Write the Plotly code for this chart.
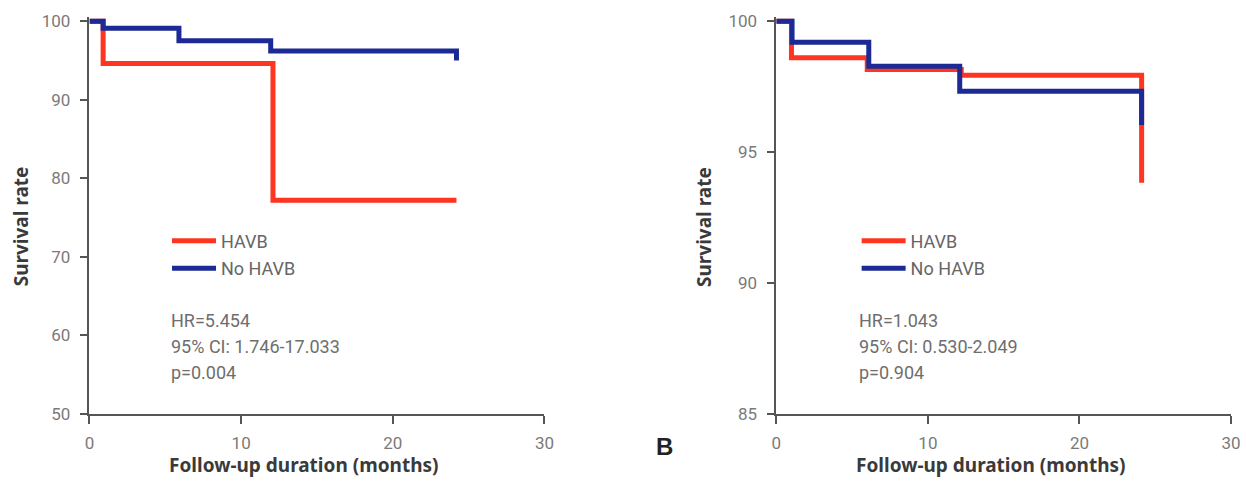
import plotly.graph_objects as go

# ---- data ----
months_ticks = [0, 10, 20, 30]

a_havb_t = [0, 0.9, 12.1, 24.2]
a_havb_s = [100, 94.6, 77.2, 77.2]
a_no_t = [0, 0.9, 5.9, 11.95, 24.2, 24.2]
a_no_s = [100, 99.1, 97.5, 96.2, 96.2, 95.0]

b_havb_t = [0, 1.0, 6.0, 12.2, 24.1, 24.1]
b_havb_s = [100, 98.6, 98.15, 97.93, 97.93, 93.83]
b_no_t = [0, 1.04, 6.1, 12.1, 24.1, 24.1]
b_no_s = [100, 99.2, 98.28, 97.32, 97.32, 96.03]

a_ticks = [50, 60, 70, 80, 90, 100]
b_ticks = [85, 90, 95, 100]

a_stats = ["HR=5.454", "95% CI: 1.746-17.033", "p=0.004"]
b_stats = ["HR=1.043", "95% CI: 0.530-2.049", "p=0.904"]

x_title = "Follow-up duration (months)"
y_title = "Survival rate"

RED = "#FF3521"
BLUE = "#1B2A94"
W, H = 1246, 487

def px_x(p):
    return p / W

def px_y(p):
    return 1 - p / H

fig = go.Figure()

def add(t, s, name, color, xa, ya, legend, group):
    fig.add_trace(go.Scatter(
        x=t, y=s, mode="lines", name=name, line=dict(color=color, width=5, shape="hv"),
        xaxis=xa, yaxis=ya, legend=legend, legendgroup=group, hoverinfo="skip"))

add(a_havb_t, a_havb_s, "HAVB", RED, "x", "y", "legend", "a1")
add(a_no_t, a_no_s, "No HAVB", BLUE, "x", "y", "legend", "a2")
add(b_havb_t, b_havb_s, "HAVB", RED, "x2", "y2", "legend2", "b1")
add(b_no_t, b_no_s, "No HAVB", BLUE, "x2", "y2", "legend2", "b2")

tickfont = dict(family="Roboto", size=17, color="#7a7a7a")
titlefont = dict(family="Noto Sans", size=19, color="#3a3a3a", weight="bold")
axis_common = dict(showline=True, linecolor="#555555", linewidth=1.5, ticks="outside",
                   ticklen=8, tickcolor="#555555", tickwidth=1.5, showgrid=False,
                   zeroline=False, tickfont=tickfont, fixedrange=True)

ydom = [px_y(421.7), px_y(11.64)]
legfont = dict(family="Roboto", size=18, color="#666666")

fig.update_layout(
    width=W, height=H, margin=dict(l=0, r=0, t=0, b=0),
    paper_bgcolor="white", plot_bgcolor="white",
    xaxis=dict(domain=[px_x(85.5), px_x(546)], range=[0, 30], tickvals=months_ticks,
               anchor="y", ticklabelstandoff=5, **axis_common),
    yaxis=dict(domain=ydom, range=[50, 100.5], tickvals=a_ticks,
               anchor="x", ticklabelstandoff=6, **axis_common),
    xaxis2=dict(domain=[px_x(780.7), px_x(1241)], range=[0, 30], tickvals=months_ticks,
                anchor="y2", ticklabelstandoff=5, **axis_common),
    yaxis2=dict(domain=ydom, range=[85, 100.15], tickvals=b_ticks,
                anchor="x2", ticklabelstandoff=6, **axis_common),
    legend=dict(x=px_x(164), y=px_y(224), xanchor="left", yanchor="top", font=legfont,
                itemwidth=44, tracegroupgap=1, bgcolor="rgba(0,0,0,0)"),
    legend2=dict(x=px_x(862), y=px_y(224), xanchor="left", yanchor="top", font=legfont,
                 itemwidth=44, tracegroupgap=1, bgcolor="rgba(0,0,0,0)"),
    showlegend=True,
)

stat_font = dict(family="Roboto", size=18, color="#6e6e6e")
for i, txt in enumerate(a_stats):
    fig.add_annotation(text=txt, x=px_x(166), y=px_y(325 + 27 * i), xref="paper", yref="paper",
                       xanchor="left", yanchor="middle", showarrow=False, font=stat_font)
for i, txt in enumerate(b_stats):
    fig.add_annotation(text=txt, x=px_x(862), y=px_y(325 + 27 * i), xref="paper", yref="paper",
                       xanchor="left", yanchor="middle", showarrow=False, font=stat_font)

# axis titles
for cx in (302, 998):
    fig.add_annotation(text=x_title, x=px_x(cx), y=px_y(475), xref="paper", yref="paper",
                       xanchor="center", yanchor="middle", showarrow=False, font=titlefont)
for cx in (16, 707):
    fig.add_annotation(text=y_title, x=px_x(cx), y=px_y(228), xref="paper", yref="paper",
                       xanchor="center", yanchor="middle", showarrow=False, font=titlefont,
                       textangle=-90)

fig.add_annotation(text="B", x=px_x(668), y=px_y(455), xref="paper", yref="paper",
                   xanchor="center", yanchor="middle", showarrow=False,
                   font=dict(family="Liberation Sans", size=24, color="#222222", weight="bold"))

fig.write_html("out.html")
